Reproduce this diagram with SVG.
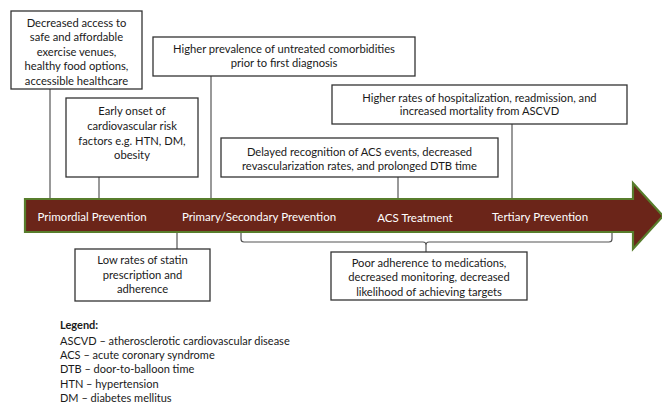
<svg xmlns="http://www.w3.org/2000/svg" width="662" height="405" viewBox="0 0 662 405">
<style>
.box{fill:#fff;stroke:#333;stroke-width:1.3}
.t{font-family:Lato,"Liberation Sans",sans-serif;font-size:11.2px;fill:#1a1a1a;text-anchor:middle}
.lbl{font-family:Lato,"Liberation Sans",sans-serif;font-size:11.5px;fill:#fff;text-anchor:middle}
.lg{font-family:Lato,"Liberation Sans",sans-serif;font-size:11px;fill:#1a1a1a}
.c{fill:none;stroke:#555;stroke-width:1.2}
</style>
<rect width="662" height="405" fill="#fff"/>
<g id="timeline">
<path d="M25,199 H633 V183 L663,216 L633,249 V232 H25 Z" fill="#6b2519" stroke="#587d2c" stroke-width="2.2"/>
<text class="lbl" x="92" y="221">Primordial Prevention</text>
<text class="lbl" x="259" y="221">Primary/Secondary Prevention</text>
<text class="lbl" x="415" y="222">ACS Treatment</text>
<text class="lbl" x="540" y="221">Tertiary Prevention</text>
</g>
<g id="connectors">
<line class="c" x1="50" y1="89" x2="50" y2="198"/>
<line class="c" x1="99" y1="177" x2="99" y2="198"/>
<line class="c" x1="211" y1="76" x2="211" y2="198"/>
<line class="c" x1="398" y1="177" x2="398" y2="198"/>
<line class="c" x1="512" y1="124" x2="512" y2="198"/>
<line class="c" x1="177" y1="233" x2="177" y2="249"/>
<path class="c" d="M241,233 V239 Q241,242 244,242 H423 Q426,242 426,245 V252 M426,245 Q426,242 429,242 H609 Q612,242 612,239 V233"/>
</g>
<g id="box1">
<rect class="box" x="11" y="11" width="131" height="78"/>
<text class="t" x="76.5" y="27">Decreased access to</text>
<text class="t" x="76.5" y="41">safe and affordable</text>
<text class="t" x="76.5" y="56">exercise venues,</text>
<text class="t" x="76.5" y="70">healthy food options,</text>
<text class="t" x="76.5" y="85">accessible healthcare</text>
</g>
<g id="box2">
<rect class="box" x="66" y="98" width="132" height="79"/>
<text class="t" x="132" y="115">Early onset of</text>
<text class="t" x="132" y="130">cardiovascular risk</text>
<text class="t" x="132" y="145">factors e.g. HTN, DM,</text>
<text class="t" x="132" y="159">obesity</text>
</g>
<g id="box3">
<rect class="box" x="153" y="37" width="262" height="39"/>
<text class="t" x="284" y="53">Higher prevalence of untreated comorbidities</text>
<text class="t" x="284" y="67">prior to first diagnosis</text>
</g>
<g id="box4">
<rect class="box" x="221" y="138" width="277" height="39"/>
<text class="t" x="359.5" y="156">Delayed recognition of ACS events, decreased</text>
<text class="t" x="359.5" y="170">revascularization rates, and prolonged DTB time</text>
</g>
<g id="box5">
<rect class="box" x="332" y="85" width="295" height="39"/>
<text class="t" x="479.5" y="102">Higher rates of hospitalization, readmission, and</text>
<text class="t" x="479.5" y="115">increased mortality from ASCVD</text>
</g>
<g id="box6">
<rect class="box" x="331" y="252" width="196" height="48"/>
<text class="t" x="429" y="267">Poor adherence to medications,</text>
<text class="t" x="429" y="281">decreased monitoring, decreased</text>
<text class="t" x="429" y="296">likelihood of achieving targets</text>
</g>
<g id="box7">
<rect class="box" x="75" y="249" width="135" height="52"/>
<text class="t" x="142.5" y="264">Low rates of statin</text>
<text class="t" x="142.5" y="279">prescription and</text>
<text class="t" x="142.5" y="293">adherence</text>
</g>
<g id="legend">
<text class="lg" x="60" y="329" font-weight="bold">Legend:</text>
<text class="lg" x="60" y="345">ASCVD – atherosclerotic cardiovascular disease</text>
<text class="lg" x="60" y="359">ACS – acute coronary syndrome</text>
<text class="lg" x="60" y="373">DTB – door-to-balloon time</text>
<text class="lg" x="60" y="388">HTN – hypertension</text>
<text class="lg" x="60" y="402">DM – diabetes mellitus</text>
</g>
</svg>
